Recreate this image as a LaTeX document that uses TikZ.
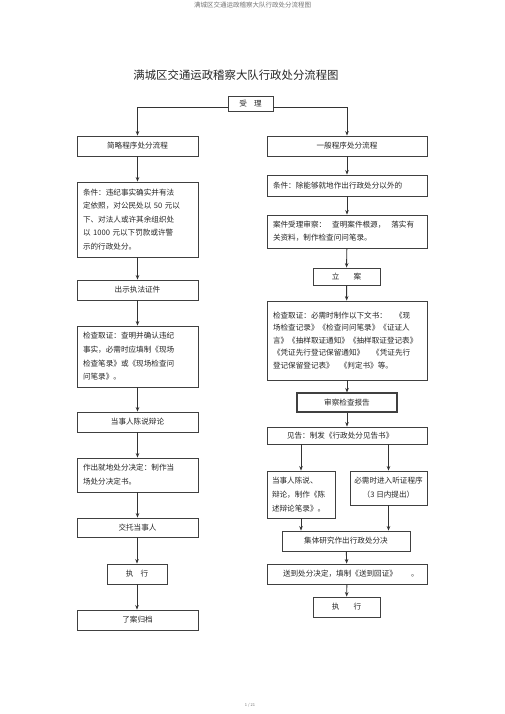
\documentclass[tikz,border=0pt]{standalone}
\usepackage{fontspec}
\setmainfont{Noto Sans CJK SC}
\usetikzlibrary{arrows.meta, positioning}

\begin{document}
\begin{tikzpicture}[x=1pt, y=-1pt,
    box/.style={draw=black!75, line width=0.9pt, fill=white, inner sep=0pt, text=black!85, font=\fontsize{7.6}{12.5}\selectfont},
    wide/.style={box, minimum width=121pt, minimum height=20pt},
    widr/.style={box, minimum width=160pt, minimum height=20pt},
    txtl/.style={box, align=left, inner xsep=6pt, text width=109pt},
    txtr/.style={box, align=left, inner xsep=6pt, text width=148pt},
    flow/.style={draw=black!80, line width=0.9pt, -{Stealth[length=4.5pt, width=3.6pt]}}]
    \useasboundingbox (0,0) rectangle (505,714);

    % header, title and page number
    \node[text=black!55, font=\fontsize{6.5}{7}\selectfont] (header) at (252.5,5) {满城区交通运政稽察大队行政处分流程图};
    \node[text=black!85, font=\fontsize{11.4}{13}\selectfont] (title) at (236,75.5) {满城区交通运政稽察大队行政处分流程图};
    \node[text=black!55, font=\fontsize{4}{5}\selectfont] (pageno) at (250,705) {1 / 21};

    % top
    \node[box, minimum width=45pt, minimum height=15pt] (shouli) at (250.5,103.5) {受\hspace{7pt}理};
    \coordinate (jl) at (137.5,107);
    \coordinate (jr) at (347,107);

    % left column
    \node[wide] (jianlue) at (137.5,146) {简略程序处分流程};
    \node[txtl, minimum height=75pt, font=\fontsize{7.6}{13.5}\selectfont] (tiaojianL) at (137.5,219.5) {条件：违纪事实确实并有法\\定依照，对公民处以 50 元以\\下、对法人或许其余组织处\\以 1000 元以下罚款或许警\\示的行政处分。};
    \node[wide] (chushi) at (137.5,290) {出示执法证件\hspace{10pt}};
    \node[txtl, minimum height=61pt, font=\fontsize{7.6}{13.7}\selectfont] (jianchaL) at (137.5,356.5) {检查取证：查明并确认违纪\\事实，必需时应填制《现场\\检查笔录》或《现场检查问\\问笔录》。};
    \node[wide] (chenshuoL) at (137.5,422) {当事人陈说辩论\hspace{10pt}};
    \node[txtl, minimum height=34pt, font=\fontsize{7.6}{14}\selectfont] (jiudi) at (137.5,475) {作出就地处分决定：制作当\\场处分决定书。};
    \node[wide, minimum height=19pt] (jiaotuo) at (137.5,527.5) {交托当事人\hspace{10pt}};
    \node[box, minimum width=60pt, minimum height=20pt] (zhixingL) at (137,574) {执\hspace{7pt}行};
    \node[wide] (liaoan) at (137.5,620) {了案归档};

    % right column
    \node[widr] (yiban) at (347,146) {一般程序处分流程};
    \node[txtr, minimum height=21pt] (tiaojianR) at (347,185.5) {条件：除能够就地作出行政处分以外的};
    \node[txtr, minimum height=33pt, font=\fontsize{7.6}{13}\selectfont] (shencha) at (347,231.5) {案件受理审察：\hspace{6pt}查明案件根源，\hspace{6pt}落实有\\关资料，制作检查问问笔录。};
    \node[box, minimum width=67pt, minimum height=17pt] (lian) at (346.5,276.5) {立\hspace{14pt}案};
    \node[txtr, minimum height=79pt, font=\fontsize{7.6}{12.5}\selectfont] (jianchaR) at (347,340.5) {检查取证：必需时制作以下文书：\hspace{8pt}《现\\场检查记录》《检查问问笔录》《证证人\\言》《抽样取证通知》《抽样取证登记表》\\《凭证先行登记保留通知》\hspace{8pt}《凭证先行\\登记保留登记表》\hspace{6pt}《判定书》等。};
    \node[box, line width=1.1pt, minimum width=100pt, minimum height=19pt] (baogao) at (347,402.5) {审察检查报告};
    \node[txtr, minimum height=17pt] (jiangao) at (347,435.5) {\hspace*{14pt}见告：制发《行政处分见告书》};
    \node[box, align=left, inner xsep=5pt, text width=58pt, minimum height=47pt, font=\fontsize{7.6}{14}\selectfont] (chenshuoR) at (301,494.5) {当事人陈说、\\辩论，制作《陈\\述辩论笔录》。};
    \node[box, align=center, minimum width=77pt, minimum height=34pt, font=\fontsize{7.6}{14}\selectfont] (tingzheng) at (388.5,488) {必需时进入听证程序\\（3 日内提出）};
    \node[box, minimum width=128pt, minimum height=20pt] (jiti) at (346,541) {集体研究作出行政处分决};
    \node[txtr, minimum height=20pt] (songda) at (347,574) {\hspace*{10pt}送到处分决定，填制《送到回证》\hspace{14pt}。};
    \node[box, minimum width=67pt, minimum height=20pt] (zhixingR) at (346.5,607) {执\hspace{14pt}行};

    % connectors from the top box
    \draw[flow] (shouli.west |- jl) -- (jl) -- (jianlue.north);
    \draw[flow] (shouli.east |- jr) -- (jr) -- (yiban.north);

    % left connectors
    \draw[flow] (jianlue) -- (tiaojianL);
    \draw[flow] (tiaojianL) -- (chushi);
    \draw[flow] (chushi) -- (jianchaL);
    \draw[flow] (jianchaL) -- (chenshuoL);
    \draw[flow] (chenshuoL) -- (jiudi);
    \draw[flow] (jiudi) -- (jiaotuo);
    \draw[flow] (jiaotuo.south -| zhixingL) -- (zhixingL);
    \draw[flow] (zhixingL) -- (liaoan.north -| zhixingL);

    % right connectors
    \draw[flow] (yiban) -- (tiaojianR);
    \draw[flow] (tiaojianR) -- (shencha);
    \draw[flow] (shencha) -- (lian);
    \draw[flow] (lian) -- (jianchaR);
    \draw[flow] (jianchaR) -- (baogao);
    \draw[flow] (baogao) -- (jiangao);
    \draw[flow] (jiangao.south -| chenshuoR) -- (chenshuoR.north);
    \draw[flow] (jiangao.south -| tingzheng) -- (tingzheng.north);
    \draw[flow] (chenshuoR.south) -- (chenshuoR.south |- jiti.north);
    \draw[flow] (tingzheng.south) -- (tingzheng.south |- jiti.north);
    \draw[flow] (jiti) -- (songda);
    \draw[flow] (songda) -- (zhixingR);
\end{tikzpicture}
\end{document}
